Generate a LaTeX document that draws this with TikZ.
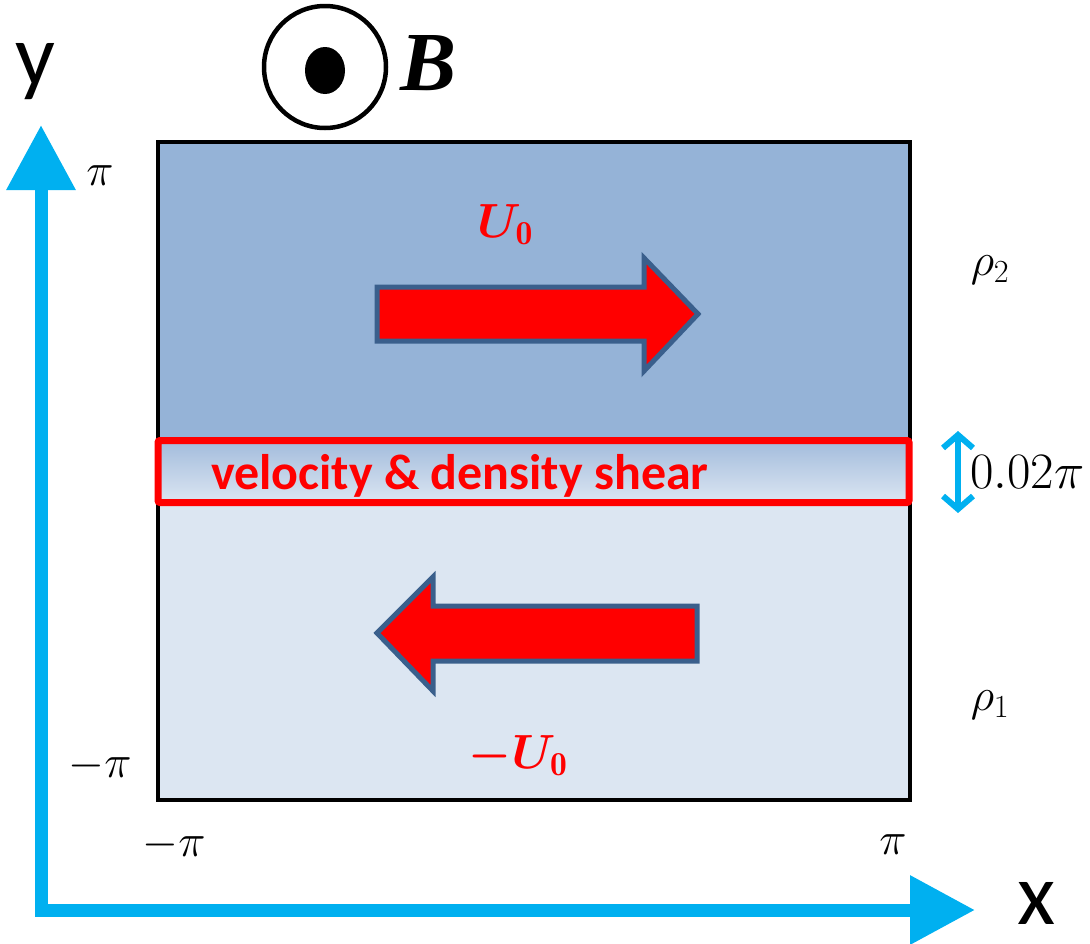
\documentclass[tikz,border=0pt]{standalone}
\usepackage{fix-cm}
\usepackage{amsmath,bm}
\usepackage{fontspec}
\newfontfamily\carlito{Carlito}
\newfontfamily\libserif{Liberation Serif}
\usetikzlibrary{arrows.meta}
\definecolor{topfill}{HTML}{95B3D7}
\definecolor{botfill}{HTML}{DCE6F2}
\definecolor{bandtop}{HTML}{A3BCDC}
\definecolor{axisblue}{HTML}{00B0F0}
\definecolor{arrowedge}{HTML}{3A5F8C}
\tikzset{
  axis/.style={draw=axisblue, line width=13pt, line join=miter,
    {Triangle[length=65pt,width=66pt]}-{Triangle[length=65pt,width=66pt]}},
  bigarrow/.style={fill=red, draw=arrowedge, line width=5pt, line join=miter},
  mathlbl/.style={font=\fontsize{46}{50}\selectfont, inner sep=0pt},
  axislbl/.style={font=\carlito\fontsize{88}{90}\selectfont, inner sep=0pt},
  redlbl/.style={text=red, font=\fontsize{48}{52}\selectfont, inner sep=0pt},
}
\begin{document}
\begin{tikzpicture}[x=1pt,y=-1pt]
\useasboundingbox (0,0) rectangle (1090,943);
% fills
\fill[topfill] (158,142) rectangle (910,472);
\fill[botfill] (158,472) rectangle (910,800);
\shade[top color=bandtop, bottom color=botfill] (158,441) rectangle (910,503);
% box outline
\draw[line width=4pt] (158,142) rectangle (910,800);
% shear band
\draw[red, line width=7pt, rounded corners=2pt] (158,440.5) rectangle (909,502.5);
\node[anchor=base west, inner sep=0pt, text=red, font=\carlito\bfseries\fontsize{50}{54}\selectfont] (shear) at (211,489) {velocity \& density shear};
% big arrows
\draw[bigarrow] (377,287) -- (644,287) -- (644,258) -- (698,314) -- (644,371) -- (644,341) -- (377,341) -- cycle;
\draw[bigarrow] (697,606) -- (433,606) -- (433,577) -- (377,633) -- (433,691) -- (433,661) -- (697,661) -- cycle;
\node[redlbl] (U0) at (505,225) {$\bm{U}_{\mathbf{0}}$};
\node[redlbl] (mU0) at (518,756) {$\bm{-U}_{\mathbf{0}}$};
% B field
\node[draw, circle, line width=4.5pt, minimum size=122pt, inner sep=0pt] (Bcirc) at (325,67) {};
\fill (325,70.5) ellipse [x radius=20pt, y radius=23.5pt];
\node[inner sep=0pt, font=\libserif\bfseries\itshape\fontsize{84}{88}\selectfont] (B) at (429,63) {B};
% axes
\coordinate (ytip) at (41,125);
\coordinate (origin) at (41,910);
\coordinate (xtip) at (975,910);
\draw[axis] (ytip) -- (origin) -- (xtip);
\node[axislbl] (ylbl) at (35,72) {y};
\node[axislbl] (xlbl) at (1037,903) {x};
% ticks
\node[mathlbl] (piY) at (100,176) {$\pi$};
\node[mathlbl] (mpiY) at (100,766) {$-\pi$};
\node[mathlbl] (mpiX) at (174,845) {$-\pi$};
\node[mathlbl] (piX) at (893,845) {$\pi$};
% densities
\node[mathlbl] (rho2) at (990,270) {$\rho_2$};
\node[mathlbl] (rho1) at (990,705) {$\rho_1$};
% thickness
\coordinate (dtop) at (958,431);
\coordinate (dbot) at (958,513);
\draw[axisblue, line width=6pt, {Straight Barb[length=13pt,width=30pt]}-{Straight Barb[length=13pt,width=30pt]}] (dtop) -- (dbot);
\node[anchor=west, inner sep=0pt, font=\fontsize{51}{54}\selectfont] (thick) at (970,472) {$0.02\pi$};
\end{tikzpicture}
\end{document}
